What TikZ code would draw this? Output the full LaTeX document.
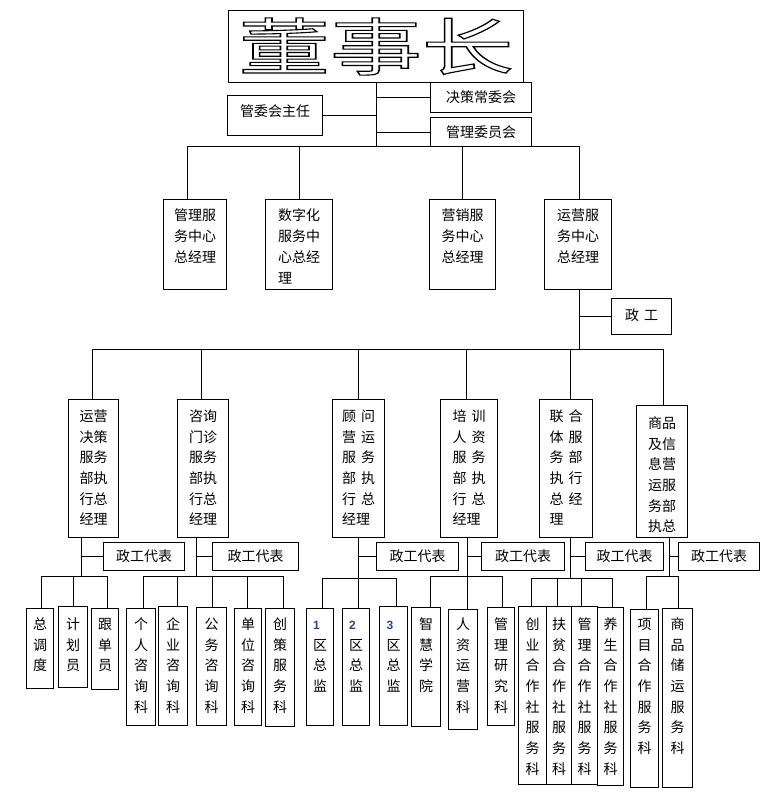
\documentclass[tikz,border=0pt]{standalone}
\usepackage{fontspec}
\usepackage{graphicx}
\setmainfont{Noto Sans CJK SC}
\newfontfamily\digitfont{Liberation Sans}
\usetikzlibrary{calc}
\definecolor{dnum}{RGB}{40,70,140}
\newcommand\gp{\hspace{5pt}}
\newcommand\bxt[4][7.5pt]{\parbox[c][#3][t]{#2}{\vspace*{#1}\centering\begin{tabular}[t]{@{}l@{}}#4\end{tabular}\par}}
\newcommand\dg[1]{{\digitfont\bfseries\fontsize{12}{20.7}\selectfont\color{dnum}#1}}
\tikzset{
  box/.style={draw, line width=1pt, inner sep=0pt, anchor=north west, font=\fontsize{14}{20.7}\selectfont},
  ln/.style={line width=1pt}
}
\begin{document}
\begin{tikzpicture}[x=1pt,y=-1pt]
\useasboundingbox (0,0) rectangle (774,806);
\fill[white] (0,0) rectangle (774,806);
% ---------- top ----------
\node[box, minimum width=295pt, minimum height=72pt, font=\fontsize{62}{62}\selectfont] (dsz) at (228,10)
 {\scalebox{1.48}[1]{\special{pdf:literal direct 2 Tr 1.1 w 0 G 1 g}董事长\special{pdf:literal direct 0 Tr 0 g}}};
\node[box] (jcw) at (430,82) {\bxt[5.5pt]{101pt}{30pt}{决策常委会}};
\node[box] (glw) at (430,117) {\bxt[6pt]{101pt}{29pt}{管理委员会}};
\node[box] (gwz) at (227,95) {\bxt[6.5pt]{95pt}{40pt}{管委会主任}};
% ---------- level 2 ----------
\node[box] (c1) at (163,199) {\bxt[7pt]{63pt}{90pt}{管理服\\务中心\\总经理}};
\node[box] (c2) at (265,199) {\bxt[7pt]{67pt}{90pt}{数字化\\服务中\\心总经\\理}};
\node[box] (c3) at (429,199) {\bxt[7pt]{66pt}{90pt}{营销服\\务中心\\总经理}};
\node[box] (c4) at (544,199) {\bxt[7pt]{67pt}{90pt}{运营服\\务中心\\总经理}};
\node[box] (zg) at (611,298) {\bxt[7.5pt]{60pt}{36pt}{政\gp 工}};
% ---------- level 3 ----------
\node[box] (d1) at (68,399) {\bxt{50pt}{138pt}{运营\\决策\\服务\\部执\\行总\\经理}};
\node[box] (d2) at (177,399) {\bxt{51pt}{138pt}{咨询\\门诊\\服务\\部执\\行总\\经理}};
\node[box] (d3) at (332,399) {\bxt{52pt}{138pt}{顾\gp 问\\营\gp 运\\服\gp 务\\部\gp 执\\行\gp 总\\经理}};
\node[box] (d4) at (440,399) {\bxt{57pt}{138pt}{培\gp 训\\人\gp 资\\服\gp 务\\部\gp 执\\行\gp 总\\经理}};
\node[box] (d5) at (539,399) {\bxt{53pt}{138pt}{联\gp 合\\体\gp 服\\务\gp 部\\执\gp 行\\总\gp 经\\理}};
\node[box] (d6) at (636,405) {\bxt[8.5pt]{51pt}{132pt}{商品\\及信\\息营\\运服\\务部\\执总}};
% ---------- 政工代表 ----------
\node[box] (e1) at (103,542) {\bxt[5pt]{81pt}{28pt}{政工代表}};
\node[box] (e2) at (212,542) {\bxt[5pt]{86pt}{28pt}{政工代表}};
\node[box] (e3) at (376,542) {\bxt[5pt]{82pt}{28pt}{政工代表}};
\node[box] (e4) at (481,542) {\bxt[5pt]{83pt}{28pt}{政工代表}};
\node[box] (e5) at (585,542) {\bxt[5pt]{78pt}{28pt}{政工代表}};
\node[box] (e6) at (678,542) {\bxt[5pt]{81pt}{28pt}{政工代表}};
% ---------- bottom ----------
\node[box] (f11) at (26,608) {\bxt[6.5pt]{27pt}{80pt}{总\\调\\度}};
\node[box] (f12) at (58,606) {\bxt[8.5pt]{29pt}{81pt}{计\\划\\员}};
\node[box] (f13) at (91,608) {\bxt[6.5pt]{27pt}{81pt}{跟\\单\\员}};
\node[box] (f21) at (126,608) {\bxt[6.5pt]{29pt}{117pt}{个\\人\\咨\\询\\科}};
\node[box] (f22) at (158,606) {\bxt[8.5pt]{29pt}{119pt}{企\\业\\咨\\询\\科}};
\node[box] (f23) at (196,607) {\bxt[7.5pt]{30pt}{118pt}{公\\务\\咨\\询\\科}};
\node[box] (f24) at (234,608) {\bxt[6.5pt]{27pt}{117pt}{单\\位\\咨\\询\\科}};
\node[box] (f25) at (265,608) {\bxt[6.5pt]{29pt}{118pt}{创\\策\\服\\务\\科}};
\node[box] (f31) at (306,608) {\bxt[6.5pt]{27pt}{117pt}{\dg{1}\\区\\总\\监}};
\node[box] (f32) at (342,608) {\bxt[6.5pt]{27pt}{117pt}{\dg{2}\\区\\总\\监}};
\node[box] (f33) at (379,606) {\bxt[8.5pt]{28pt}{119pt}{\dg{3}\\区\\总\\监}};
\node[box] (f41) at (411,607) {\bxt[7.5pt]{29pt}{119pt}{智\\慧\\学\\院}};
\node[box] (f42) at (448,609) {\bxt[5.5pt]{29pt}{120pt}{人\\资\\运\\营\\科}};
\node[box] (f43) at (487,607) {\bxt[7.5pt]{27pt}{118pt}{管\\理\\研\\究\\科}};
\node[box] (f51) at (518,606) {\bxt[8.5pt]{28pt}{178pt}{创\\业\\合\\作\\社\\服\\务\\科}};
\node[box] (f52) at (546,606) {\bxt[8.5pt]{25pt}{178pt}{扶\\贫\\合\\作\\社\\服\\务\\科}};
\node[box] (f53) at (571,606) {\bxt[8.5pt]{26pt}{178pt}{管\\理\\合\\作\\社\\服\\务\\科}};
\node[box] (f54) at (597,607) {\bxt[7.5pt]{26pt}{178pt}{养\\生\\合\\作\\社\\服\\务\\科}};
\node[box] (f61) at (630,609) {\bxt[5.5pt]{28pt}{178pt}{项\\目\\合\\作\\服\\务\\科}};
\node[box] (f62) at (662,608) {\bxt[6.5pt]{30pt}{179pt}{商\\品\\储\\运\\服\\务\\科}};
% ---------- coordinates ----------
\coordinate (b1L) at (187,146); \coordinate (b1R) at (579,146);
\coordinate (j1) at (92,349); \coordinate (j2) at (201,349); \coordinate (j3) at (358,349);
\coordinate (j4) at (466,349); \coordinate (j5) at (570,349); \coordinate (j6) at (663,349);
\coordinate (k1) at (81,576); \coordinate (k2) at (196,576); \coordinate (k3) at (358,578);
\coordinate (k4) at (467,576); \coordinate (k5) at (570,578); \coordinate (k6) at (669,576);
\coordinate (g11) at (41,576); \coordinate (g12) at (73,576); \coordinate (g13) at (107,576);
\coordinate (g21) at (143,576); \coordinate (g22) at (177,576); \coordinate (g23) at (212,576);
\coordinate (g24) at (247,576); \coordinate (g25) at (283,576);
\coordinate (g31) at (322,578); \coordinate (g32) at (358,578); \coordinate (g33) at (396,578);
\coordinate (g41) at (430,576); \coordinate (g42) at (467,576); \coordinate (g43) at (502,576);
\coordinate (g51) at (531,578); \coordinate (g52) at (557,578); \coordinate (g53) at (581,578); \coordinate (g54) at (612,578);
\coordinate (g61) at (646,576); \coordinate (g62) at (678,576);
% ---------- connectors top ----------
\draw[ln] (dsz.south) -- (dsz.south |- b1L);
\draw[ln] (dsz.south |- jcw.west) -- (jcw.west);
\draw[ln] (dsz.south |- glw.west) -- (glw.west);
\draw[ln] (gwz.east) -- (gwz.east -| dsz.south);
\draw[ln] (b1L) -- (b1R);
\draw[ln] (b1L) -- (b1L |- c1.north);
\draw[ln] (c2.north |- b1L) -- (c2.north);
\draw[ln] (c3.north |- b1L) -- (c3.north);
\draw[ln] (b1R) -- (b1R |- c4.north);
\draw[ln] (b1R |- c4.south) -- (b1R |- j1);
\draw[ln] (b1R |- zg.west) -- (zg.west);
% ---------- level 3 ----------
\draw[ln] (j1) -- (j6);
\foreach \j/\d in {j1/d1,j2/d2,j3/d3,j4/d4,j5/d5,j6/d6}{\draw[ln] (\j) -- (\j |- \d.north);}
\foreach \k/\d/\e in {k1/d1/e1,k2/d2/e2,k3/d3/e3,k4/d4/e4,k5/d5/e5,k6/d6/e6}{
  \draw[ln] (\k |- \d.south) -- (\k);
  \draw[ln] (\k |- \e.west) -- (\e.west);}
% ---------- bottom buses ----------
\draw[ln] (g11) -- (g13); \draw[ln] (g21) -- (g25); \draw[ln] (g31) -- (g33);
\draw[ln] (g41) -- (g43); \draw[ln] (g51) -- (g54); \draw[ln] (g61) -- (g62);
\foreach \g/\f in {g11/f11,g12/f12,g13/f13,g21/f21,g22/f22,g23/f23,g24/f24,g25/f25,
  g31/f31,g32/f32,g33/f33,g41/f41,g42/f42,g43/f43,g51/f51,g52/f52,g53/f53,g54/f54,g61/f61,g62/f62}
  {\draw[ln] (\g) -- (\g |- \f.north);}
\end{tikzpicture}
\end{document}
